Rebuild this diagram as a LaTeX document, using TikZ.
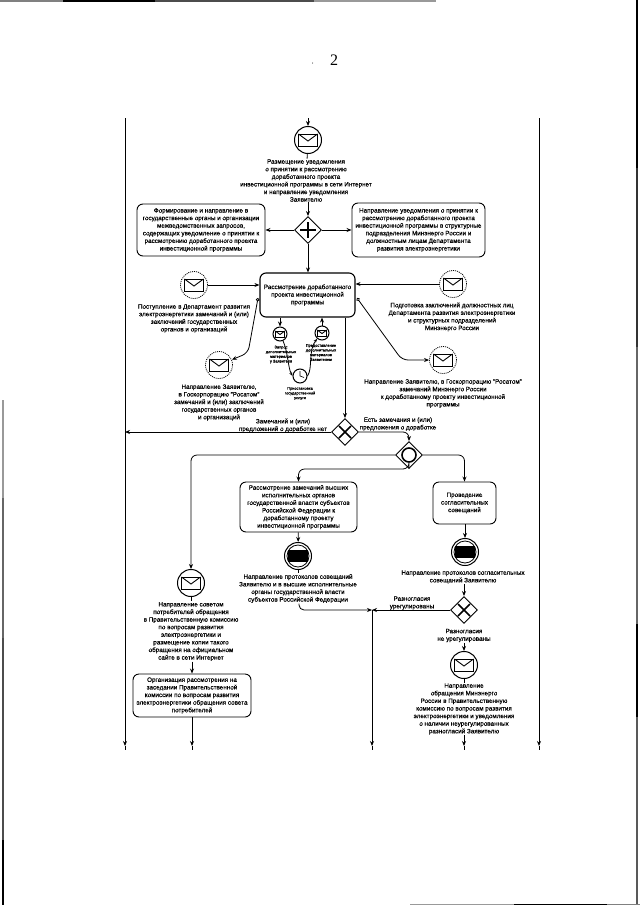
\documentclass[tikz,border=0pt]{standalone}
\usepackage{fontspec}
\setmainfont{Liberation Sans}[RawFeature={embolden=0.35}]
\newfontfamily\pagefont{Liberation Serif}
\usetikzlibrary{shapes.geometric, arrows.meta}

\newcommand{\txt}[1]{\fontsize{#1}{7.6}\selectfont}

\tikzset{
    lane/.style={draw, line width=0.9pt, -{Stealth[length=5pt,width=4pt]}},
    flow/.style={draw, line width=0.8pt, -{Stealth[length=5pt,width=4pt]}},
    link/.style={draw, line width=0.8pt},
    taskbox/.style={draw, line width=0.9pt, rounded corners=6pt, align=center, inner sep=0pt, font=\txt{6.3}},
    caption/.style={align=center, inner sep=0.5pt, font=\txt{6.3}},
    tiny caption/.style={align=center, inner sep=0pt, font=\fontsize{3.9}{4.7}\selectfont},
    event/.style={circle, draw, line width=1pt, minimum size=27pt, inner sep=0pt},
    outside/.style={event, densely dotted, line width=0.8pt},
    smallevent/.style={circle, draw, line width=1pt, minimum size=14pt, inner sep=0pt},
    innerring/.style={circle, draw, line width=0.8pt, minimum size=22pt, inner sep=0pt},
    gate/.style={diamond, draw, line width=0.9pt, minimum width=27pt, minimum height=27pt, inner sep=0pt},
    letter/.pic={
        \draw[line width=0.9pt] (-9.5,-6) rectangle (9.5,6);
        \draw[line width=0.9pt] (-9.5,-6) -- (0,1) -- (9.5,-6);
    },
    blackletter/.pic={
        \draw[line width=0.9pt, fill=black] (-9.5,-5.5) rectangle (9.5,5.5);
    }
}

\begin{document}
\begin{tikzpicture}[x=1pt, y=-1pt]
    \useasboundingbox (0,0) rectangle (640,905);

    % edges of the sheet
    \foreach \from/\to/\shade in {0/63/50, 63/155/100, 155/314/70, 314/436/40}
        \draw[line width=1.2pt, black!\shade] (\from,1) -- (\to,1);
    \foreach \from/\to/\shade in {0/168/100, 168/347/80, 347/624/60, 624/717/100, 717/905/65}
        \draw[line width=1.6pt, black!\shade] (637,\from) -- (637,\to);
    \foreach \from/\to/\shade in {400/498/40, 498/638/60, 638/840/70, 840/905/100}
        \draw[line width=1.2pt, black!\shade] (3,\from) -- (3,\to);
    \foreach \from/\to/\shade in {410/514/40, 514/607/100, 607/640/50}
        \draw[line width=0.8pt, black!\shade] (\from,904) -- (\to,904);
    \node[inner sep=0pt, font=\pagefont\fontsize{16}{16}\selectfont] (pagenum) at (334,60) {2};
    \fill (312.5,63) circle (0.5pt);

    % lanes
    \coordinate (laneLtop) at (125,118);
    \coordinate (laneLend) at (125,746);
    \coordinate (laneLtail) at (125,750);
    \coordinate (laneRtop) at (539,118);
    \coordinate (laneRend) at (539,746);
    \coordinate (laneRtail) at (539,750);
    \draw[lane] (laneLtop) -- (laneLend);
    \draw[link] (laneLend) -- (laneLtail);
    \draw[lane] (laneRtop) -- (laneRend);
    \draw[link] (laneRend) -- (laneRtail);

    % top part
    \coordinate (enter) at (308,118);
    \node[event] (msgTop) at (308,140) {};
    \pic at (msgTop) {letter};
    \node[caption] (capTop) at (306,180.5) {Размещение уведомления\\ о принятии к рассмотрению\\ доработанного проекта\\ инвестиционной программы в сети Интернет\\ и направление уведомления\\ Заявителю};
    \node[gate] (gatePlus) at (308,230) {};
    \draw[line width=2.4pt] (300,230) -- (316,230) (308,222) -- (308,238);
    \node[taskbox, minimum width=128pt, minimum height=52pt] (boxForm) at (201,230) {Формирование и направление в\\ государственные органы и организации\\ межведомственных запросов,\\ содержащих уведомление о принятии к\\ рассмотрению доработанного проекта\\ инвестиционной программы};
    \node[taskbox, minimum width=133pt, minimum height=54pt] (boxNotify) at (418.5,230) {Направление уведомления о принятии к\\ рассмотрению доработанного проекта\\ инвестиционной программы в структурные\\ подразделения Минэнерго России и\\ должностным лицам Департамента\\ развития электроэнергетики};
    \draw[flow] (enter) -- (msgTop);
    \draw[link] (msgTop) -- (capTop);
    \draw[flow] (capTop.south -| gatePlus) -- (gatePlus);
    \draw[flow] (gatePlus) -- (boxForm);
    \draw[flow] (gatePlus) -- (boxNotify);

    % review
    \node[taskbox, line width=1.1pt, minimum width=95pt, minimum height=44pt] (boxReview) at (307.5,295) {Рассмотрение доработанного\\ проекта инвестиционной\\ программы};
    \draw[flow] (gatePlus) -- (boxReview.north -| gatePlus);

    \node[outside] (msgIn) at (194,285) {};
    \pic at (msgIn) {letter};
    \node[caption] (capIn) at (194,318.5) {Поступление в Департамент развития\\ электроэнергетики замечаний и (или)\\ заключений  государственных\\ органов и организаций};
    \draw[flow] (msgIn) -- (msgIn -| boxReview.west);

    \node[outside] (msgPrep) at (453,284) {};
    \pic at (msgPrep) {letter};
    \node[caption] (capPrep) at (452,317) {Подготовка заключений должностных лиц\\ Департамента развития электроэнергетики\\ и структурных подразделений\\ Минэнерго России};
    \draw[flow] (msgPrep) -- (msgPrep -| boxReview.east);

    \node[outside] (msgApplL) at (219,365) {};
    \pic at (msgApplL) {letter};
    \node[caption] (capApplL) at (219,402.5) {Направление Заявителю,\\ в Госкорпорацию "Росатом"\\ замечаний и (или) заключений\\ государственных органов\\ и организаций};
    \coordinate (startL) at (258,298);
    \draw[link, {Circle[open,length=3.5pt,width=3.5pt]}-{Stealth[length=5pt,width=4pt]}, rounded corners=6pt] (startL) -- (248,353) -- (msgApplL);

    \node[outside] (msgApplR) at (443,360) {};
    \pic at (msgApplR) {letter};
    \node[caption] (capApplR) at (443,393.5) {Направление Заявителю, в Госкорпорацию "Росатом"\\ замечаний Минэнерго России\\ к доработанному проекту инвестиционной\\ программы};
    \coordinate (startR) at (357,298);
    \draw[link, {Circle[open,length=3.5pt,width=3.5pt]}-{Stealth[length=5pt,width=4pt]}, rounded corners=6pt] (startR) -- (402,360) -- (msgApplR);

    % suspension loop
    \node[smallevent] (msgAsk) at (280,334) {};
    \pic[scale=0.5] at (msgAsk) {letter};
    \node[smallevent] (msgGive) at (322,333) {};
    \pic[scale=0.5] at (msgGive) {letter};
    \node[smallevent] (timer) at (300,376) {};
    \draw[line width=0.6pt] (timer.center) -- ++(0,-5) (timer.center) -- ++(4,1.5);
    \node[tiny caption] (capAsk) at (281,354.5) {Запрос\\ дополнительных\\ материалов\\ у Заявителя};
    \node[tiny caption] (capGive) at (321,352.5) {Предоставление\\ дополнительных\\ материалов\\ Заявителем};
    \node[tiny caption] (capTimer) at (300,393.5) {Приостановка\\ государственной\\ услуги};
    \draw[flow] (msgAsk |- boxReview.south) -- (msgAsk);
    \draw[flow] (msgGive) -- (msgGive |- boxReview.south);
    \draw[link, -{Stealth[length=4pt,width=3pt]}] (msgAsk) .. controls (288,352) and (288,368) .. (timer.west);
    \draw[link, -{Stealth[length=4pt,width=3pt]}] (timer.east) .. controls (313,368) and (308,350) .. (msgGive);

    % split
    \node[gate] (gateNo) at (345,432) {};
    \draw[line width=1.6pt] (339,426) -- (351,438) (339,438) -- (351,426);
    \draw[flow] (boxReview.south -| gateNo) -- (gateNo);
    \draw[flow] (gateNo) -- (gateNo -| laneLtop);
    \node[caption] (capNoRem) at (283,425.5) {Замечаний и (или)\\ предложений о доработке нет};
    \node[caption] (capHasRem) at (398,424) {Есть замечания и (или)\\ предложения о доработке};

    \node[gate] (gateAll) at (409,455) {};
    \draw[line width=1.6pt] (gateAll) circle (7pt);
    \draw[flow, rounded corners=6pt] (gateNo) -| (gateAll);

    \node[taskbox, minimum width=117pt, minimum height=50pt] (boxHigh) at (298.5,507) {Рассмотрение замечаний высших\\ исполнительных органов\\ государственной власти субъектов\\ Российской Федерации к\\ доработанному проекту\\ инвестиционной программы};
    \node[taskbox, minimum width=63pt, minimum height=42pt] (boxMeet) at (464.5,503) {Проведение\\ согласительных\\ совещаний};
    \node[event] (msgCouncil) at (191,583) {};
    \pic at (msgCouncil) {letter};

    \draw[flow, rounded corners=6pt] (gateAll) -| (msgCouncil);
    \draw[flow, rounded corners=6pt] (gateAll) |- ++(-60,14) -| (boxHigh);
    \draw[flow, rounded corners=6pt] (gateAll) -| (boxMeet);

    % protocols
    \node[event] (protoL) at (298,556) {};
    \node[innerring] (protoLin) at (protoL) {};
    \pic at (protoL) {blackletter};
    \draw[flow] (boxHigh) -- (protoL);
    \node[caption] (capProtoL) at (298,588.5) {Направление протоколов совещаний\\ Заявителю и в высшие исполнительные\\ органы  государственной власти\\ субъектов Российской Федерации};
    \draw[link] (protoL) -- (capProtoL);

    \node[event] (protoR) at (465,552) {};
    \node[innerring] (protoRin) at (protoR) {};
    \pic at (protoR) {blackletter};
    \draw[flow] (boxMeet.south -| protoR) -- (protoR);
    \node[caption] (capProtoR) at (463,577) {Направление протоколов согласительных\\ совещаний Заявителю};

    \node[gate] (gateDiff) at (464,610) {};
    \draw[line width=1.6pt] (458,604) -- (470,616) (458,616) -- (470,604);
    \draw[flow] (capProtoR.south -| gateDiff) -- (gateDiff);

    % merge
    \coordinate (merge) at (372,610);
    \coordinate (mergeEnd) at (372,746);
    \coordinate (mergeTail) at (372,750);
    \draw[flow, rounded corners=5pt] (capProtoL.south -| 299,600) |- (merge);
    \draw[flow] (gateDiff) -- (merge);
    \draw[flow] (merge) -- (mergeEnd);
    \draw[link] (mergeEnd) -- (mergeTail);
    \node[caption] (capSolved) at (412,603) {Разногласия\\ урегулированы};
    \node[caption] (capNotSolved) at (464,635.5) {Разногласия\\ не урегулированы};

    \node[event] (msgMin) at (464,665) {};
    \pic at (msgMin) {letter};
    \draw[flow] (capNotSolved) -- (msgMin);
    \node[caption] (capMin) at (464,709) {Направление\\ обращения Минэнерго\\ России в Правительственную\\ комиссию по вопросам развития\\ электроэнергетики и уведомления\\ о наличии неурегулированных\\ разногласий Заявителю};
    \draw[link] (msgMin) -- (capMin);
    \coordinate (minEnd) at (464,746);
    \coordinate (minTail) at (464,750);
    \draw[flow] (capMin.south) -- (minEnd);
    \draw[link] (minEnd) -- (minTail);

    % council
    \node[caption] (capCouncil) at (191,631.5) {Направление советом\\ потребителей обращения\\ в Правительственную комиссию\\ по вопросам развития\\ электроэнергетики и\\ размещение копии такого\\ обращения на официальном\\ сайте в сети Интернет};
    \draw[link] (msgCouncil) -- (capCouncil);
    \node[taskbox, minimum width=118pt, minimum height=43pt] (boxSession) at (192,695.5) {Организация рассмотрения на\\ заседании Правительственной\\ комиссии по вопросам развития\\ электроэнергетики обращения совета\\ потребителей};
    \draw[flow] (capCouncil.south -| boxSession) -- (boxSession);
    \coordinate (sessionEnd) at (192,746);
    \coordinate (sessionTail) at (192,750);
    \draw[flow] (boxSession) -- (sessionEnd);
    \draw[link] (sessionEnd) -- (sessionTail);
\end{tikzpicture}
\end{document}
